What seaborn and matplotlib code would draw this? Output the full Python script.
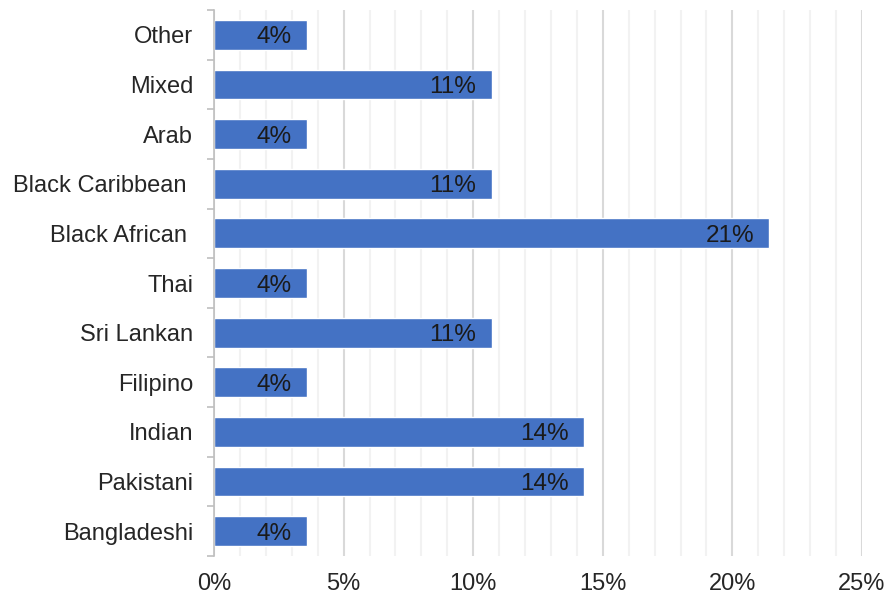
import matplotlib
matplotlib.use("Agg")
import matplotlib.pyplot as plt
from matplotlib.ticker import MultipleLocator, FuncFormatter, FixedLocator, NullFormatter
import seaborn as sns
import pandas as pd

# Share of respondents by ethnic group (percent), listed top to bottom
groups = ["Other", "Mixed", "Arab", "Black Caribbean ", "Black African ", "Thai",
          "Sri Lankan", "Filipino", "Indian", "Pakistani", "Bangladeshi"]
shares = [3.57, 10.71, 3.57, 10.71, 21.43, 3.57, 10.71, 3.57, 14.29, 14.29, 3.57]
x_ticks = [0, 5, 10, 15, 20, 25]

df = pd.DataFrame({"group": groups, "share": shares})

sns.set_style("white")
plt.rcParams["font.family"] = ["Liberation Sans", "DejaVu Sans"]

text_color = "#262626"
fig = plt.figure(figsize=(8.87, 5.96), dpi=100)
ax = fig.add_axes([0.2413, 0.0671, 0.7305, 0.9161])

sns.barplot(data=df, x="share", y="group", order=groups, orient="h",
            color="#4472C4", saturation=1, width=0.6, ax=ax, zorder=3)

ax.set_xlim(0, 25)
ax.set_ylim(len(groups) - 0.5, -0.5)
ax.set_xlabel("")
ax.set_ylabel("")

# Gridlines: light every 1%, darker every 5%
ax.xaxis.set_major_locator(FixedLocator(x_ticks))
ax.xaxis.set_minor_locator(MultipleLocator(1))
ax.xaxis.set_major_formatter(FuncFormatter(lambda v, p: f"{v:.0f}%"))
ax.grid(axis="x", which="major", color="#d9d9d9", linewidth=1.5, zorder=0)
ax.grid(axis="x", which="minor", color="#f2f2f2", linewidth=1.5, zorder=0)
ax.set_axisbelow(True)
ax.tick_params(axis="x", which="both", length=0, pad=12, labelsize=17,
               labelcolor=text_color)

# Category axis: labels without marks, separator ticks between categories
ax.yaxis.set_minor_locator(FixedLocator([i - 0.5 for i in range(len(groups) + 1)]))
ax.yaxis.set_minor_formatter(NullFormatter())
ax.tick_params(axis="y", which="major", length=0, pad=15, labelsize=17,
               labelcolor=text_color)
ax.tick_params(axis="y", which="minor", length=5, width=1.2, color="#bfbfbf",
               left=True, direction="out")

for side in ["top", "right", "bottom"]:
    ax.spines[side].set_visible(False)
ax.spines["left"].set_color("#bfbfbf")
ax.spines["left"].set_linewidth(1.2)
ax.spines["left"].set_zorder(4)

# Value labels inside the end of each bar
for container in ax.containers:
    labels = [f"{v:.0f}%" for v in container.datavalues]
    texts = ax.bar_label(container, labels=labels, padding=-11, fontsize=17.5,
                         color="#1a1a1a")
    for t in texts:
        t.set_ha("right")
        t.set_va("center_baseline")

fig.savefig("out.png", dpi=100)
